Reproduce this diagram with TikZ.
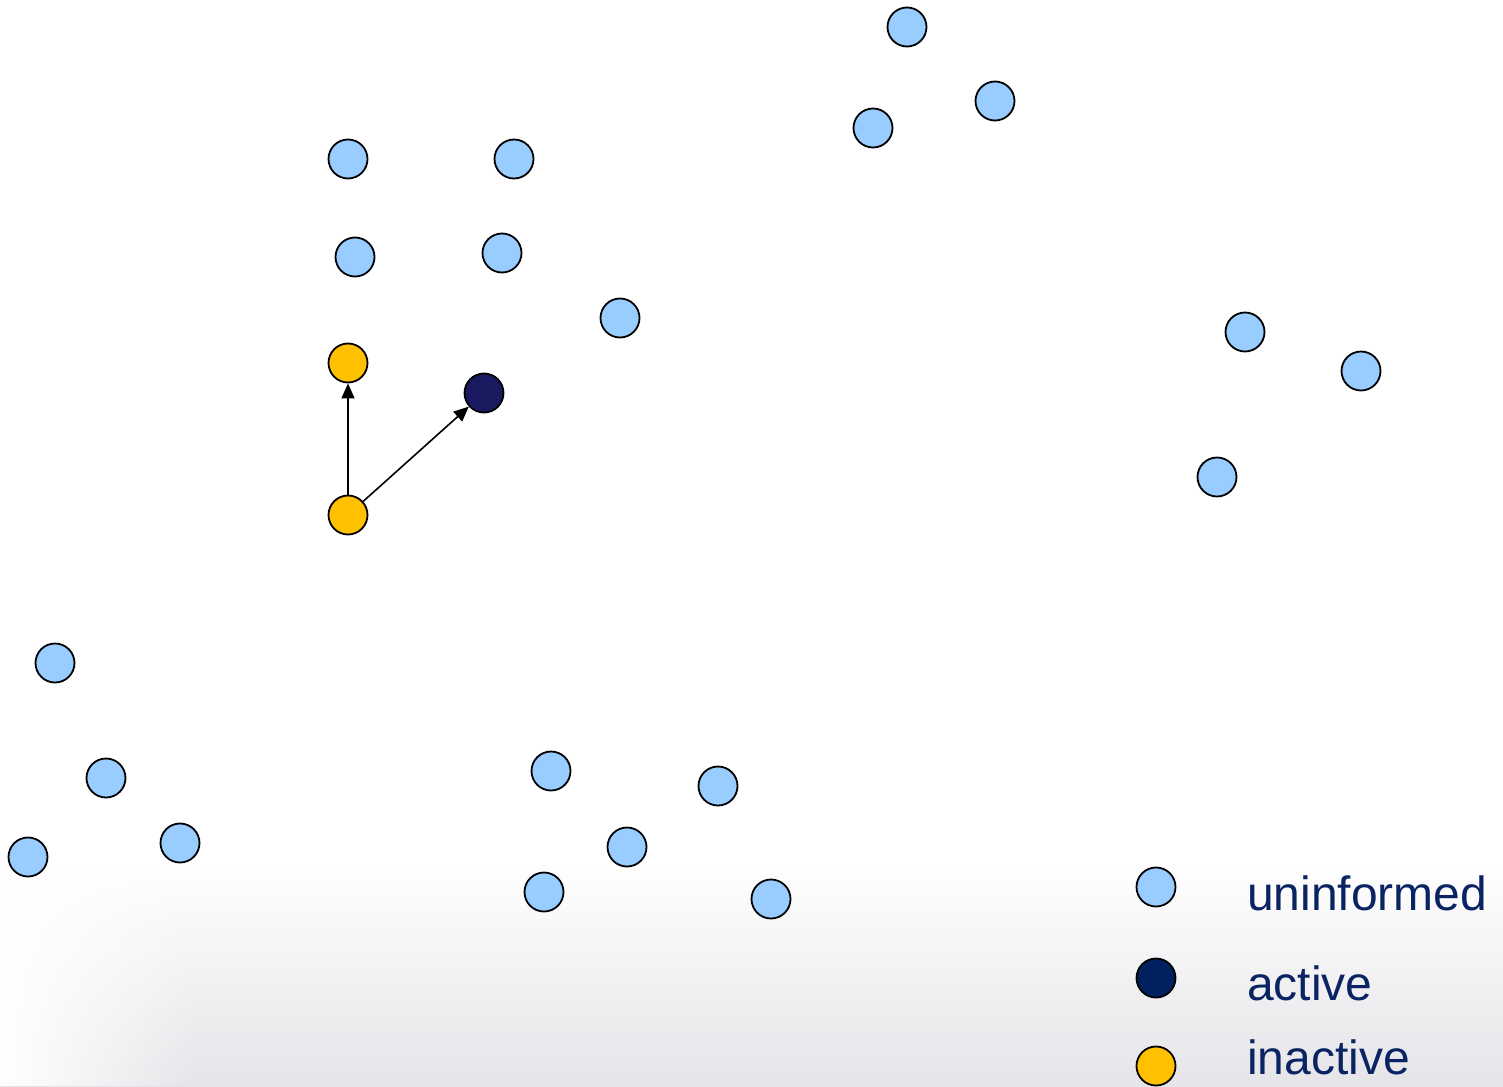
\documentclass[tikz,border=0pt]{standalone}
\usepackage{fontspec}
\setmainfont{Liberation Sans}
\usetikzlibrary{arrows.meta, fadings}
\definecolor{LBlue}{HTML}{99CCFF}
\definecolor{Gold}{HTML}{FFC000}
\definecolor{Navy}{HTML}{1A1A60}
\definecolor{LNavy}{HTML}{002060}
\definecolor{TextNavy}{HTML}{0A2463}
\definecolor{BgGray}{RGB}{229,229,233}

\begin{document}
\begin{tikzpicture}[x=0.5pt, y=-0.5pt,
    peer/.style={circle, draw=black, line width=0.9pt, minimum size=19.5pt, inner sep=0pt},
    uninformed/.style={peer, fill=LBlue},
    active/.style={peer, fill=Navy},
    inactive/.style={peer, fill=Gold},
    msg/.style={-{Triangle[length=7.5pt, width=6.5pt]}, line width=0.8pt},
    legend/.style={anchor=west, text=TextNavy, font=\fontsize{24}{28}\selectfont}]

    \useasboundingbox (0,0) rectangle (1503,1086);

    % background shading at the bottom
    \shade[top color=white, bottom color=BgGray] (0,860) rectangle (1503,1086);
    \fill[white, path fading=east] (0,860) rectangle (200,1086);

    % uninformed peers
    \foreach \name/\x/\y in {a/907/27, b/995/101, c/873/128,
        d/348/159, e/514/159, f/355/257, g/502/253, h/620/318,
        i/1245/332, j/1361/371, k/1217/477,
        l/55/663, m/106/778, n/28/857, o/180/843,
        p/551/771, q/718/786, r/627/847, s/544/892, t/771/899} {
        \node[uninformed] (u\name) at (\x,\y) {};
    }

    % inactive and active peers
    \node[inactive] (top) at (348,363) {};
    \node[active] (act) at (484,393) {};
    \node[inactive] (src) at (348,515) {};

    \draw[msg] (src) -- (top);
    \draw[msg] (src) -- (act);

    % legend
    \node[uninformed] (leguni) at (1156,887) {};
    \node[peer, fill=LNavy] (legact) at (1156,978) {};
    \node[inactive] (leginact) at (1156,1066) {};
    \node[legend] at (1240,893) {uninformed};
    \node[legend] at (1240,983) {active};
    \node[legend] at (1240,1057) {inactive};
\end{tikzpicture}
\end{document}
